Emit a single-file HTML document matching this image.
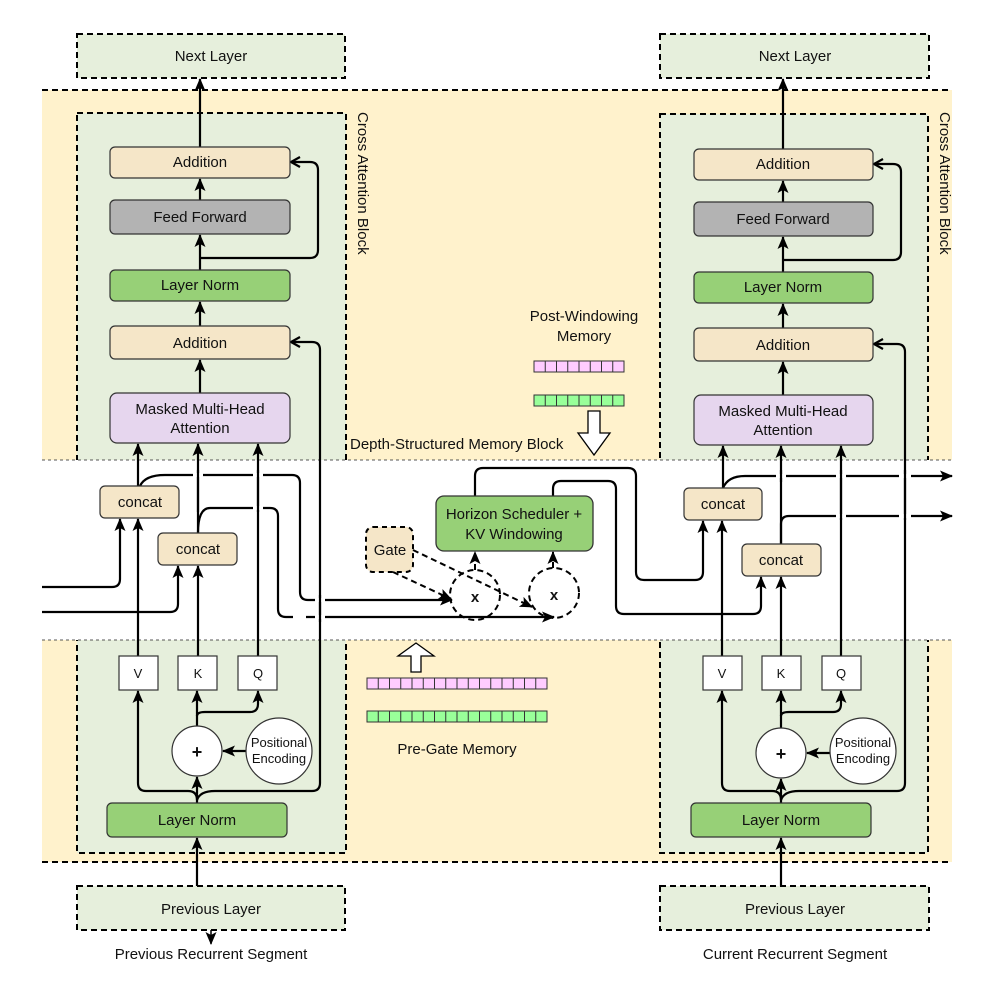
<!DOCTYPE html>
<html><head><meta charset="utf-8"><style>
html,body{margin:0;padding:0;background:#fff}
svg{display:block}
text{font-family:"Liberation Sans",Arial,sans-serif;fill:#111}
</style></head><body>
<svg width="997" height="998" viewBox="0 0 997 998" xmlns="http://www.w3.org/2000/svg">
<defs>
<marker id="a" markerWidth="14" markerHeight="14" refX="12" refY="6" orient="auto" markerUnits="userSpaceOnUse"><path d="M0,0.5 L13,6 L0,11.5 L3,6 z" fill="#000"/></marker>
<marker id="o" markerWidth="14" markerHeight="14" refX="11" refY="6" orient="auto" markerUnits="userSpaceOnUse"><path d="M2,1 L11,6 L2,11" fill="none" stroke="#000" stroke-width="2.2"/></marker>
</defs>
<rect x="42" y="90" width="910" height="772" fill="#fff2cc"/>
<rect x="77" y="113" width="269" height="740" fill="#e6efdc" stroke="#000" stroke-width="2" stroke-dasharray="6,4"/>
<rect x="660" y="114" width="268" height="739" fill="#e6efdc" stroke="#000" stroke-width="2" stroke-dasharray="6,4"/>
<rect x="42" y="460" width="910" height="180" fill="#fff"/>
<line x1="42" y1="460" x2="952" y2="460" stroke="#555" stroke-width="1" stroke-dasharray="3,3"/>
<line x1="42" y1="640" x2="952" y2="640" stroke="#555" stroke-width="1" stroke-dasharray="3,3"/>
<line x1="42" y1="90" x2="952" y2="90" stroke="#000" stroke-width="2" stroke-dasharray="6,4"/>
<line x1="42" y1="862" x2="952" y2="862" stroke="#000" stroke-width="2" stroke-dasharray="6,4"/>

<g stroke="#000" stroke-width="2" stroke-dasharray="6,4" fill="#e6efdc">
<rect x="77" y="34" width="268" height="44"/>
<rect x="660" y="34" width="269" height="44"/>
<rect x="77" y="886" width="268" height="44"/>
<rect x="660" y="886" width="269" height="44"/>
</g>
<g font-size="15" text-anchor="middle">
<text x="211" y="61">Next Layer</text>
<text x="795" y="61">Next Layer</text>
<text x="211" y="914">Previous Layer</text>
<text x="795" y="914">Previous Layer</text>
<text x="211" y="959">Previous Recurrent Segment</text>
<text x="795" y="959">Current Recurrent Segment</text>
</g>
<path d="M211,930 L211,944" stroke="#000" stroke-width="1.5" marker-end="url(#a)"/>

<g>
<g stroke="#000" stroke-width="2.2" fill="none">
<path d="M200,147 L200,79" marker-end="url(#a)"/>
<path d="M200,200 L200,179" marker-end="url(#a)"/>
<path d="M200,270 L200,235" marker-end="url(#a)"/>
<path d="M200,258 L310,258 Q318,258 318,250 L318,170 Q318,162 310,162 L291,162" marker-end="url(#o)"/>
<path d="M200,326 L200,302" marker-end="url(#a)"/>
<path d="M200,393 L200,360" marker-end="url(#a)"/>
<path d="M320,783 L320,350 Q320,342 312,342 L291,342" marker-end="url(#o)"/>
<path d="M197,886 L197,838" marker-end="url(#a)"/>
<path d="M197,803 L197,777" marker-end="url(#a)"/>
<path d="M197,800 Q197,791 188,791 L146,791 Q138,791 138,783 L138,691" marker-end="url(#a)"/>
<path d="M197,800 Q200,791 215,791 L312,791 Q320,791 320,783"/>
<path d="M197,726 L197,691" marker-end="url(#a)"/>
<path d="M197,716 Q197,712 205,712 L250,712 Q258,712 258,704 L258,691" marker-end="url(#a)"/>
<path d="M246,751 L223,751" marker-end="url(#a)"/>
<path d="M138,656 L138,519" marker-end="url(#a)"/>
<path d="M138,486 L138,444" marker-end="url(#a)"/>
<path d="M198,656 L198,566" marker-end="url(#a)"/>
<path d="M198,533 L198,444" marker-end="url(#a)"/>
<path d="M258,656 L258,444" marker-end="url(#a)"/>
</g>
<g stroke="#333" stroke-width="1.2">
<rect x="110" y="147" width="180" height="31" rx="5" fill="#f5e6c8"/>
<rect x="110" y="200" width="180" height="34" rx="5" fill="#b3b3b3"/>
<rect x="110" y="270" width="180" height="31" rx="5" fill="#97d077"/>
<rect x="110" y="326" width="180" height="33" rx="5" fill="#f5e6c8"/>
<rect x="110" y="393" width="180" height="50" rx="7" fill="#e6d6ee"/>
<rect x="119" y="656" width="39" height="34" fill="#fff"/>
<rect x="178" y="656" width="39" height="34" fill="#fff"/>
<rect x="238" y="656" width="39" height="34" fill="#fff"/>
<rect x="107" y="803" width="180" height="34" rx="5" fill="#97d077"/>
<circle cx="197" cy="751" r="25" fill="#fff"/>
<circle cx="279" cy="751" r="33" fill="#fff"/>
</g>
<g font-size="15" text-anchor="middle">
<text x="200" y="167">Addition</text>
<text x="200" y="222">Feed Forward</text>
<text x="200" y="290">Layer Norm</text>
<text x="200" y="348">Addition</text>
<text x="200" y="414">Masked Multi-Head</text>
<text x="200" y="433">Attention</text>
<text x="138" y="678" font-size="13">V</text>
<text x="198" y="678" font-size="13">K</text>
<text x="258" y="678" font-size="13">Q</text>
<text x="197" y="825">Layer Norm</text>
<text x="197" y="758" font-size="18" font-weight="bold">+</text>
<text x="279" y="747" font-size="13">Positional</text>
<text x="279" y="763" font-size="13">Encoding</text>
</g>
<text transform="translate(358,112) rotate(90)" font-size="15">Cross Attention Block</text>
</g>

<g transform="translate(583,2)">
<g stroke="#000" stroke-width="2.2" fill="none">
<path d="M200,147 L200,77" marker-end="url(#a)"/>
<path d="M200,200 L200,179" marker-end="url(#a)"/>
<path d="M200,270 L200,235" marker-end="url(#a)"/>
<path d="M200,258 L310,258 Q318,258 318,250 L318,170 Q318,162 310,162 L291,162" marker-end="url(#o)"/>
<path d="M200,326 L200,302" marker-end="url(#a)"/>
<path d="M200,393 L200,360" marker-end="url(#a)"/>
<path d="M322,781 L322,350 Q322,342 314,342 L291,342" marker-end="url(#o)"/>
<path d="M198,884 L198,836" marker-end="url(#a)"/>
<path d="M198,801 L198,777" marker-end="url(#a)"/>
<path d="M198,798 Q198,789 189,789 L147,789 Q139,789 139,781 L139,689" marker-end="url(#a)"/>
<path d="M198,798 Q201,789 216,789 L314,789 Q322,789 322,781"/>
<path d="M198,726 L198,689" marker-end="url(#a)"/>
<path d="M198,714 Q198,710 206,710 L250,710 Q258,710 258,702 L258,689" marker-end="url(#a)"/>
<path d="M247,751 L224,751" marker-end="url(#a)"/>
<path d="M139,654 L139,519" marker-end="url(#a)"/>
<path d="M140,486 L140,444" marker-end="url(#a)"/>
<path d="M198,654 L198,575" marker-end="url(#a)"/>
<path d="M198,542 L198,444" marker-end="url(#a)"/>
<path d="M258,654 L258,444" marker-end="url(#a)"/>
</g>
<g stroke="#333" stroke-width="1.2">
<rect x="111" y="147" width="179" height="31" rx="5" fill="#f5e6c8"/>
<rect x="111" y="200" width="179" height="34" rx="5" fill="#b3b3b3"/>
<rect x="111" y="270" width="179" height="31" rx="5" fill="#97d077"/>
<rect x="111" y="326" width="179" height="33" rx="5" fill="#f5e6c8"/>
<rect x="111" y="393" width="179" height="50" rx="7" fill="#e6d6ee"/>
<rect x="120" y="654" width="39" height="34" fill="#fff"/>
<rect x="179" y="654" width="39" height="34" fill="#fff"/>
<rect x="239" y="654" width="39" height="34" fill="#fff"/>
<rect x="108" y="801" width="180" height="34" rx="5" fill="#97d077"/>
<circle cx="198" cy="751" r="25" fill="#fff"/>
<circle cx="280" cy="749" r="33" fill="#fff"/>
</g>
<g font-size="15" text-anchor="middle">
<text x="200" y="167">Addition</text>
<text x="200" y="222">Feed Forward</text>
<text x="200" y="290">Layer Norm</text>
<text x="200" y="348">Addition</text>
<text x="200" y="414">Masked Multi-Head</text>
<text x="200" y="433">Attention</text>
<text x="139" y="676" font-size="13">V</text>
<text x="198" y="676" font-size="13">K</text>
<text x="258" y="676" font-size="13">Q</text>
<text x="198" y="823">Layer Norm</text>
<text x="198" y="758" font-size="18" font-weight="bold">+</text>
<text x="280" y="745" font-size="13">Positional</text>
<text x="280" y="761" font-size="13">Encoding</text>
</g>
<text transform="translate(357,110) rotate(90)" font-size="15">Cross Attention Block</text>
</g>

<g stroke="#000" stroke-width="2.2" fill="none">
<path d="M42,587 L112,587 Q120,587 120,579 L120,519" marker-end="url(#a)"/>
<path d="M42,612 L170,612 Q178,612 178,604 L178,566" marker-end="url(#a)"/>
<path d="M140,486 Q145,475 165,475 L292,475 Q300,475 300,483 L300,592 Q300,600 308,600 L452,600" marker-end="url(#a)"/>
<path d="M198,533 Q198,508 210,508 L270,508 Q278,508 278,516 L278,609 Q278,617 286,617 L554,617" marker-end="url(#a)"/>
<path d="M475,496 L475,476 Q475,468 483,468 L628,468 Q636,468 636,476 L636,572 Q636,580 644,580 L695,580 Q703,580 703,572 L703,521" marker-end="url(#a)"/>
<path d="M553,496 L553,489 Q553,481 561,481 L608,481 Q616,481 616,489 L616,606 Q616,614 624,614 L753,614 Q761,614 761,606 L761,577" marker-end="url(#a)"/>
<path d="M723,488 Q728,476 745,476 L952,476" marker-end="url(#a)"/>
<path d="M781,544 L781,524 Q781,516 789,516 L952,516" marker-end="url(#a)"/>
</g>
<g stroke="#fff" stroke-width="4">
<line x1="193" y1="475" x2="203" y2="475"/><line x1="253" y1="475" x2="263" y2="475"/>
<line x1="253" y1="508" x2="263" y2="508"/>
<line x1="315" y1="600" x2="325" y2="600"/><line x1="315" y1="617" x2="325" y2="617"/>
<line x1="293" y1="617" x2="306" y2="617"/>
<line x1="776" y1="476" x2="786" y2="476"/><line x1="836" y1="476" x2="846" y2="476"/><line x1="899" y1="476" x2="911" y2="476"/>
<line x1="836" y1="516" x2="846" y2="516"/><line x1="899" y1="516" x2="911" y2="516"/>
</g>
<g stroke="#000" stroke-width="2.2">
<line x1="198" y1="470" x2="198" y2="512"/><line x1="258" y1="470" x2="258" y2="512"/>
<line x1="320" y1="595" x2="320" y2="622"/>
<line x1="781" y1="470" x2="781" y2="482"/><line x1="841" y1="470" x2="841" y2="520"/><line x1="905" y1="470" x2="905" y2="520"/>
</g>

<g stroke="#333" stroke-width="1.2" fill="#f5e6c8">
<rect x="100" y="486" width="79" height="32" rx="5"/>
<rect x="158" y="533" width="79" height="32" rx="5"/>
<rect x="684" y="488" width="78" height="32" rx="5"/>
<rect x="742" y="544" width="79" height="32" rx="5"/>
</g>
<g font-size="15" text-anchor="middle">
<text x="140" y="507">concat</text>
<text x="198" y="554">concat</text>
<text x="723" y="509">concat</text>
<text x="781" y="565">concat</text>
</g>

<rect x="436" y="496" width="157" height="55" rx="8" fill="#97d077" stroke="#333" stroke-width="1.3"/>
<text x="514" y="519" font-size="15" text-anchor="middle">Horizon Scheduler +</text>
<text x="514" y="539" font-size="15" text-anchor="middle">KV Windowing</text>
<rect x="366" y="527" width="47" height="45" rx="7" fill="#f5e6c8" stroke="#000" stroke-width="2" stroke-dasharray="5,4"/>
<text x="390" y="555" font-size="15" text-anchor="middle">Gate</text>
<g stroke="#000" stroke-width="2" fill="none" stroke-dasharray="6,4">
<circle cx="475" cy="595" r="25"/>
<circle cx="554" cy="593" r="25"/>
<path d="M393,572 L451,599" marker-end="url(#a)"/>
<path d="M413,550 L532,607" marker-end="url(#a)"/>
<path d="M475,570 L475,552" marker-end="url(#a)"/>
<path d="M553,568 L553,552" marker-end="url(#a)"/>
</g>
<text x="475" y="602" font-size="15" font-weight="bold" text-anchor="middle">x</text>
<text x="554" y="600" font-size="15" font-weight="bold" text-anchor="middle">x</text>

<text x="584" y="321" font-size="15" text-anchor="middle">Post-Windowing</text>
<text x="584" y="341" font-size="15" text-anchor="middle">Memory</text>
<text x="350" y="449" font-size="15">Depth-Structured Memory Block</text>
<g stroke="#333" stroke-width="1">
<rect x="534" y="361" width="90" height="11" fill="#ffccff"/>
<rect x="534" y="395" width="90" height="11" fill="#99ff99"/>
<rect x="367" y="678" width="180" height="11" fill="#ffccff"/>
<rect x="367" y="711" width="180" height="11" fill="#99ff99"/>
<path d="M545.25,361v11M556.5,361v11M567.75,361v11M579,361v11M590.25,361v11M601.5,361v11M612.75,361v11
M545.25,395v11M556.5,395v11M567.75,395v11M579,395v11M590.25,395v11M601.5,395v11M612.75,395v11
M378.25,678v11M389.5,678v11M400.75,678v11M412,678v11M423.25,678v11M434.5,678v11M445.75,678v11M457,678v11M468.25,678v11M479.5,678v11M490.75,678v11M502,678v11M513.25,678v11M524.5,678v11M535.75,678v11
M378.25,711v11M389.5,711v11M400.75,711v11M412,711v11M423.25,711v11M434.5,711v11M445.75,711v11M457,711v11M468.25,711v11M479.5,711v11M490.75,711v11M502,711v11M513.25,711v11M524.5,711v11M535.75,711v11"/>
</g>
<path d="M588,411 L600,411 L600,433 L610,433 L594,455 L578,433 L588,433 Z" fill="#fff" stroke="#000" stroke-width="1.3"/>
<path d="M411,672 L421,672 L421,656 L434,656 L416,643 L398,656 L411,656 Z" fill="#fff" stroke="#000" stroke-width="1.3"/>
<text x="457" y="754" font-size="15" text-anchor="middle">Pre-Gate Memory</text>
</svg>
</body></html>
